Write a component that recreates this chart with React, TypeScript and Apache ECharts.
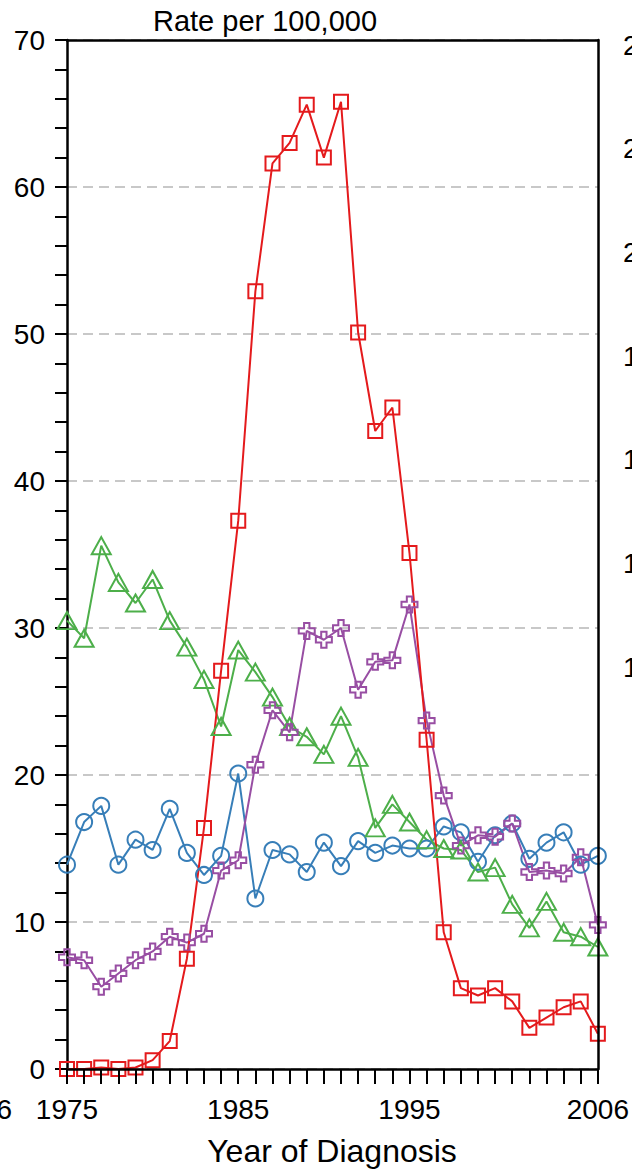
import React, { useEffect, useRef } from "react";
import * as echarts from "echarts";

const years = [
  "1975","1976","1977","1978","1979","1980","1981","1982","1983","1984",
  "1985","1986","1987","1988","1989","1990","1991","1992","1993","1994",
  "1995","1996","1997","1998","1999","2000","2001","2002","2003","2004",
  "2005","2006",
];
const shownYearLabels = ["1975", "1985", "1995", "2006"];

const blueCircles = [13.9, 16.8, 17.9, 13.9, 15.6, 14.9, 17.7, 14.7, 13.2, 14.5, 20.1, 11.6, 14.9, 14.6, 13.4, 15.4, 13.8, 15.5, 14.7, 15.2, 15.0, 15.0, 16.5, 16.1, 14.1, 15.9, 16.7, 14.3, 15.4, 16.1, 13.9, 14.5];
const greenTriangles = [30.5, 29.3, 35.6, 33.1, 31.7, 33.3, 30.5, 28.7, 26.5, 23.3, 28.5, 27.0, 25.3, 23.3, 22.6, 21.4, 24.0, 21.2, 16.4, 18.0, 16.8, 15.6, 15.0, 14.9, 13.4, 13.7, 11.2, 9.6, 11.4, 9.3, 9.0, 8.3];
const purpleCrosses = [7.6, 7.4, 5.6, 6.5, 7.4, 8.0, 9.0, 8.6, 9.2, 13.5, 14.2, 20.7, 24.4, 22.9, 29.8, 29.2, 30.0, 25.8, 27.7, 27.8, 31.6, 23.7, 18.6, 15.2, 15.9, 15.8, 16.7, 13.4, 13.5, 13.3, 14.4, 9.8];
const redSquares = [0, 0, 0.1, 0, 0.1, 0.6, 1.9, 7.5, 16.4, 27.1, 37.3, 52.9, 61.6, 63.0, 65.6, 62.0, 65.8, 50.1, 43.4, 45.0, 35.1, 22.4, 9.3, 5.5, 5.0, 5.5, 4.6, 2.8, 3.5, 4.2, 4.6, 2.4];

// partial labels cut by the picture edges (neighbouring panels)
const leftEdgeText = "6";
const rightEdgeTexts = ["2", "2", "2", "1", "1", "1", "1"];

const FONT = "'Liberation Sans', Arial, Helvetica, sans-serif";
const PLUS = "path://M5,0 H10 V5 H15 V10 H10 V15 H5 V10 H0 V5 H5 Z";

export default function App() {
  const ref = useRef<HTMLDivElement>(null);
  useEffect(() => {
    if (!ref.current) return;
    const chart = echarts.init(ref.current, null, { renderer: "svg" });
    const mk = (name: string, data: number[], color: string, symbol: string, size: any) => ({
      name,
      type: "line",
      data,
      symbol,
      symbolSize: size,
      showAllSymbol: true,
      clip: false,
      lineStyle: { color, width: 2 },
      itemStyle: { color: "none", borderColor: color, borderWidth: 2 },
    });
    const rightGraphics = rightEdgeTexts.map((t, i) => ({
      type: "text",
      x: 623,
      y: 45 + i * 103.7,
      style: { text: t, font: `28px ${FONT}`, fill: "#000", textAlign: "left", textVerticalAlign: "middle" },
    }));
    chart.setOption({
      animation: false,
      backgroundColor: "#fff",
      grid: { left: 67, right: 34, top: 40, bottom: 102, containLabel: false },
      xAxis: [
        {
          type: "category",
          data: years,
          boundaryGap: false,
          axisLine: { show: true, onZero: false, lineStyle: { color: "#000", width: 2.5 } },
          axisTick: { show: true, interval: 0, length: 15, lineStyle: { color: "#000", width: 2 } },
          axisLabel: {
            show: true,
            interval: (_i: number, v: string) => shownYearLabels.includes(v),
            margin: 26,
            color: "#000",
            fontSize: 28,
            fontFamily: FONT,
            showMaxLabel: true,
          },
          splitLine: { show: false },
          z: 5,
        },
        {
          type: "category",
          data: years,
          boundaryGap: false,
          position: "top",
          axisLine: { show: true, onZero: false, lineStyle: { color: "#000", width: 2.5 } },
          axisTick: { show: false },
          axisLabel: { show: false },
          splitLine: { show: false },
          z: 5,
        },
      ],
      yAxis: [
        {
          type: "value",
          min: 0,
          max: 70,
          interval: 10,
          axisLine: { show: true, onZero: false, lineStyle: { color: "#000", width: 2.5 } },
          axisTick: { show: true, length: 12, lineStyle: { color: "#000", width: 2 } },
          minorTick: { show: true, splitNumber: 5, length: 12, lineStyle: { color: "#000", width: 2 } },
          axisLabel: { margin: 22, color: "#000", fontSize: 28, fontFamily: FONT },
          splitLine: { show: true, lineStyle: { color: "#c8c8c8", width: 2, type: [10, 6] } },
        },
        {
          type: "value",
          min: 0,
          max: 70,
          interval: 10,
          position: "right",
          axisLine: { show: true, onZero: false, lineStyle: { color: "#000", width: 2.5 } },
          axisTick: { show: false },
          axisLabel: { show: false },
          splitLine: { show: false },
          z: 5,
        },
      ],
      series: [
        mk("blue", blueCircles, "#377eb8", "circle", 16),
        mk("green", greenTriangles, "#4daf4a", "triangle", [19, 17]),
        mk("purple", purpleCrosses, "#984ea3", PLUS, 16),
        mk("red", redSquares, "#e41a1c", "rect", 14),
      ],
      graphic: [
        {
          type: "text",
          x: 265,
          y: 21,
          style: { text: "Rate per 100,000", font: `29px ${FONT}`, fill: "#000", textAlign: "center", textVerticalAlign: "middle" },
        },
        {
          type: "text",
          x: 332,
          y: 1151,
          style: { text: "Year of Diagnosis", font: `32px ${FONT}`, fill: "#000", textAlign: "center", textVerticalAlign: "middle" },
        },
        {
          type: "text",
          x: 12,
          y: 1109,
          style: { text: leftEdgeText, font: `28px ${FONT}`, fill: "#000", textAlign: "right", textVerticalAlign: "middle" },
        },
        ...rightGraphics,
      ],
    });
    return () => chart.dispose();
  }, []);
  return (
    <div
      ref={ref}
      style={{ position: "absolute", left: 0, top: 0, width: 632, height: 1171, background: "#fff" }}
    />
  );
}
